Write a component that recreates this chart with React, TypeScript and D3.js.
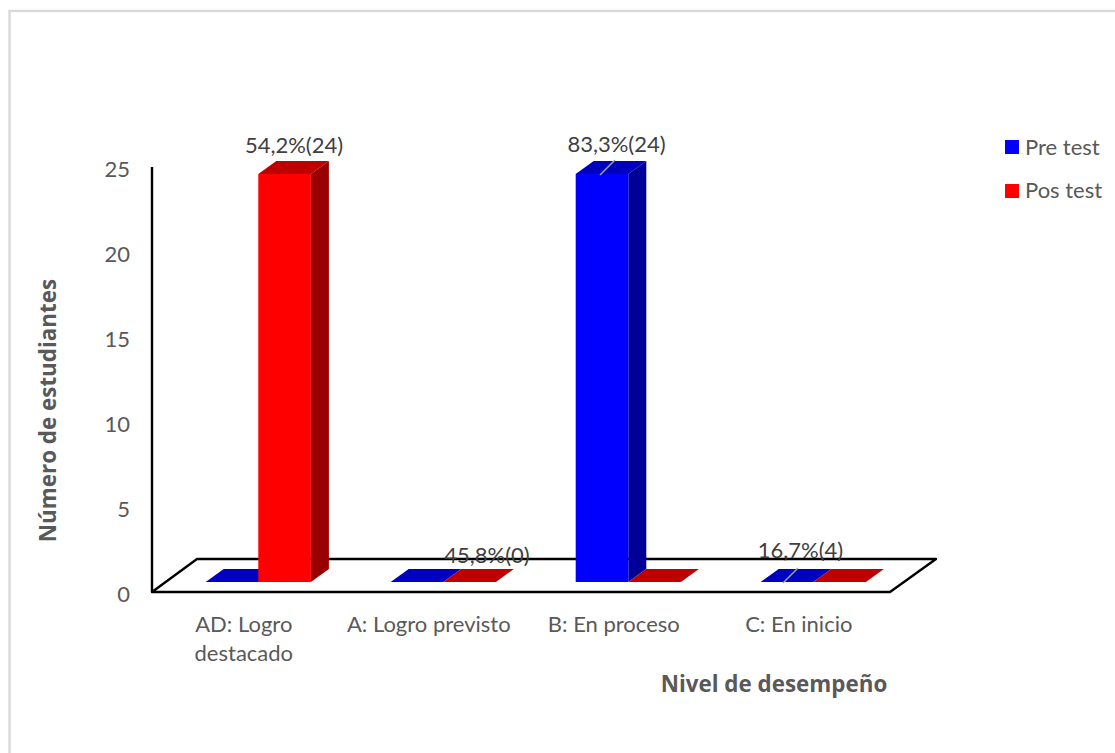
import React from "react";
import * as d3 from "d3";

const categories = ["AD: Logro destacado", "A: Logro previsto", "B: En proceso", "C: En inicio"];
const categoryLines = [["AD: Logro", "destacado"], ["A: Logro previsto"], ["B: En proceso"], ["C: En inicio"]];
const seriesNames = ["Pre test", "Pos test"];
const preTest = [0, 0, 24, 0];
const posTest = [24, 0, 0, 0];
const yTicks = [0, 5, 10, 15, 20, 25];
const dataLabels = ["54,2%(24)", "45,8%(0)", "83,3%(24)", "16,7%(4)"];

const W = 1115, H = 753;
const font = "Lato, 'Open Sans', sans-serif";
const boldFont = "'Open Sans', Lato, sans-serif";
const textColor = "#595959";
const labelColor = "#404040";
const fronts = ["#0000ff", "#ff0000"];
const sides = ["#000099", "#990000"];
const tops = ["#0000bf", "#bf0000"];

export default function App() {
  const floorFrontY = 592, floorBackY = 559;
  const wallX = 152, floorRightX = 890;
  const dx = 18, dy = -13, floorDx = 45;
  const y = d3.scaleLinear().domain([0, 25]).range([582, 157]);
  const axisY = d3.scaleLinear().domain([0, 25]).range([592, 167]);
  const x0 = d3.scaleBand<string>().domain(categories).range([165.8, 905.8]);
  const x1 = d3.scaleBand<string>().domain(seriesNames).range([0, 105.2]);
  const bw = x1.bandwidth();
  const center = (i: number) => (x0(categories[i]) as number) + x0.bandwidth() / 2;
  const barX = (i: number, s: number) => center(i) - 52.6 + (x1(seriesNames[s]) as number);
  const all = [preTest, posTest];
  const pts = (a: number[][]) => a.map(p => p.join(",")).join(" ");
  const bars = categories.flatMap((_, i) => [0, 1].map(s => ({ i, s, v: all[s][i], x: barX(i, s) })));
  return (
    <svg width={W} height={H} style={{ position: "fixed", left: 0, top: 0, background: "#fff" }} fontFamily={font}>
      <rect x={9.5} y={11} width={W + 10} height={H + 10} fill="none" stroke="#d9d9d9" strokeWidth={2.4} />
      <polygon
        points={pts([[wallX, floorFrontY], [wallX + floorDx, floorBackY], [floorRightX + floorDx + 1, floorBackY], [floorRightX, floorFrontY]])}
        fill="#fff" stroke="#000" strokeWidth={2.4} strokeLinejoin="round" />
      <line x1={wallX} x2={wallX} y1={axisY(25)} y2={axisY(0)} stroke="#000" strokeWidth={2.4} />
      {bars.map(({ i, s, v, x }) => {
        const yb = y(0), yt = y(v);
        return (
          <g key={`${i}-${s}`}>
            <polygon points={pts([[x + bw, yb], [x + bw + dx, yb + dy], [x + bw + dx, yt + dy], [x + bw, yt]])} fill={sides[s]} />
            <polygon points={pts([[x, yt], [x + dx, yt + dy], [x + bw + dx, yt + dy], [x + bw, yt]])} fill={tops[s]} />
            <rect x={x} y={yt} width={bw} height={yb - yt} fill={fronts[s]} />
          </g>
        );
      })}
      {[2, 3].map(i => {
        const cx = barX(i, 0) + bw / 2 - (i === 3 ? 2 : 0);
        const v = i === 2 ? 24 : 0;
        return <line key={i} x1={cx - 2} y1={y(v) + 1} x2={cx + 13} y2={y(v) - 14} stroke="#a6a6a6" strokeWidth={1.5} />;
      })}
      {yTicks.map(t => (
        <text key={t} x={130} y={axisY(t) + 9.5} fontSize={22} fill={textColor} textAnchor="end">{t}</text>
      ))}
      {categoryLines.map((lines, i) => (
        <text key={i} fontSize={22} fill={textColor} textAnchor="middle">
          {lines.map((l, j) => (
            <tspan key={j} x={center(i) - 14.5} y={632 + j * 29}>{l}</tspan>
          ))}
        </text>
      ))}
      {dataLabels.map((l, i) => {
        const lx = [294, 487, 616.5, 800.5][i];
        const ly = [153, 563, 152, 558][i];
        return <text key={l} x={lx} y={ly} fontSize={22} fill={labelColor} textAnchor="middle">{l}</text>;
      })}
      <text transform="translate(55.5,410.5) rotate(-90)" fontSize={22.4} fontWeight={700} fill={textColor} textAnchor="middle" fontFamily={boldFont}>Número de estudiantes</text>
      <text x={774} y={692} fontSize={22.4} fontWeight={700} fill={textColor} textAnchor="middle" fontFamily={boldFont}>Nivel de desempeño</text>
      {seriesNames.map((n, s) => (
        <g key={n}>
          <rect x={1005} y={140 + s * 44} width={14} height={14} fill={fronts[s]} />
          <text x={1025} y={155 + s * 43} fontSize={22} fill={textColor}>{n}</text>
        </g>
      ))}
    </svg>
  );
}
